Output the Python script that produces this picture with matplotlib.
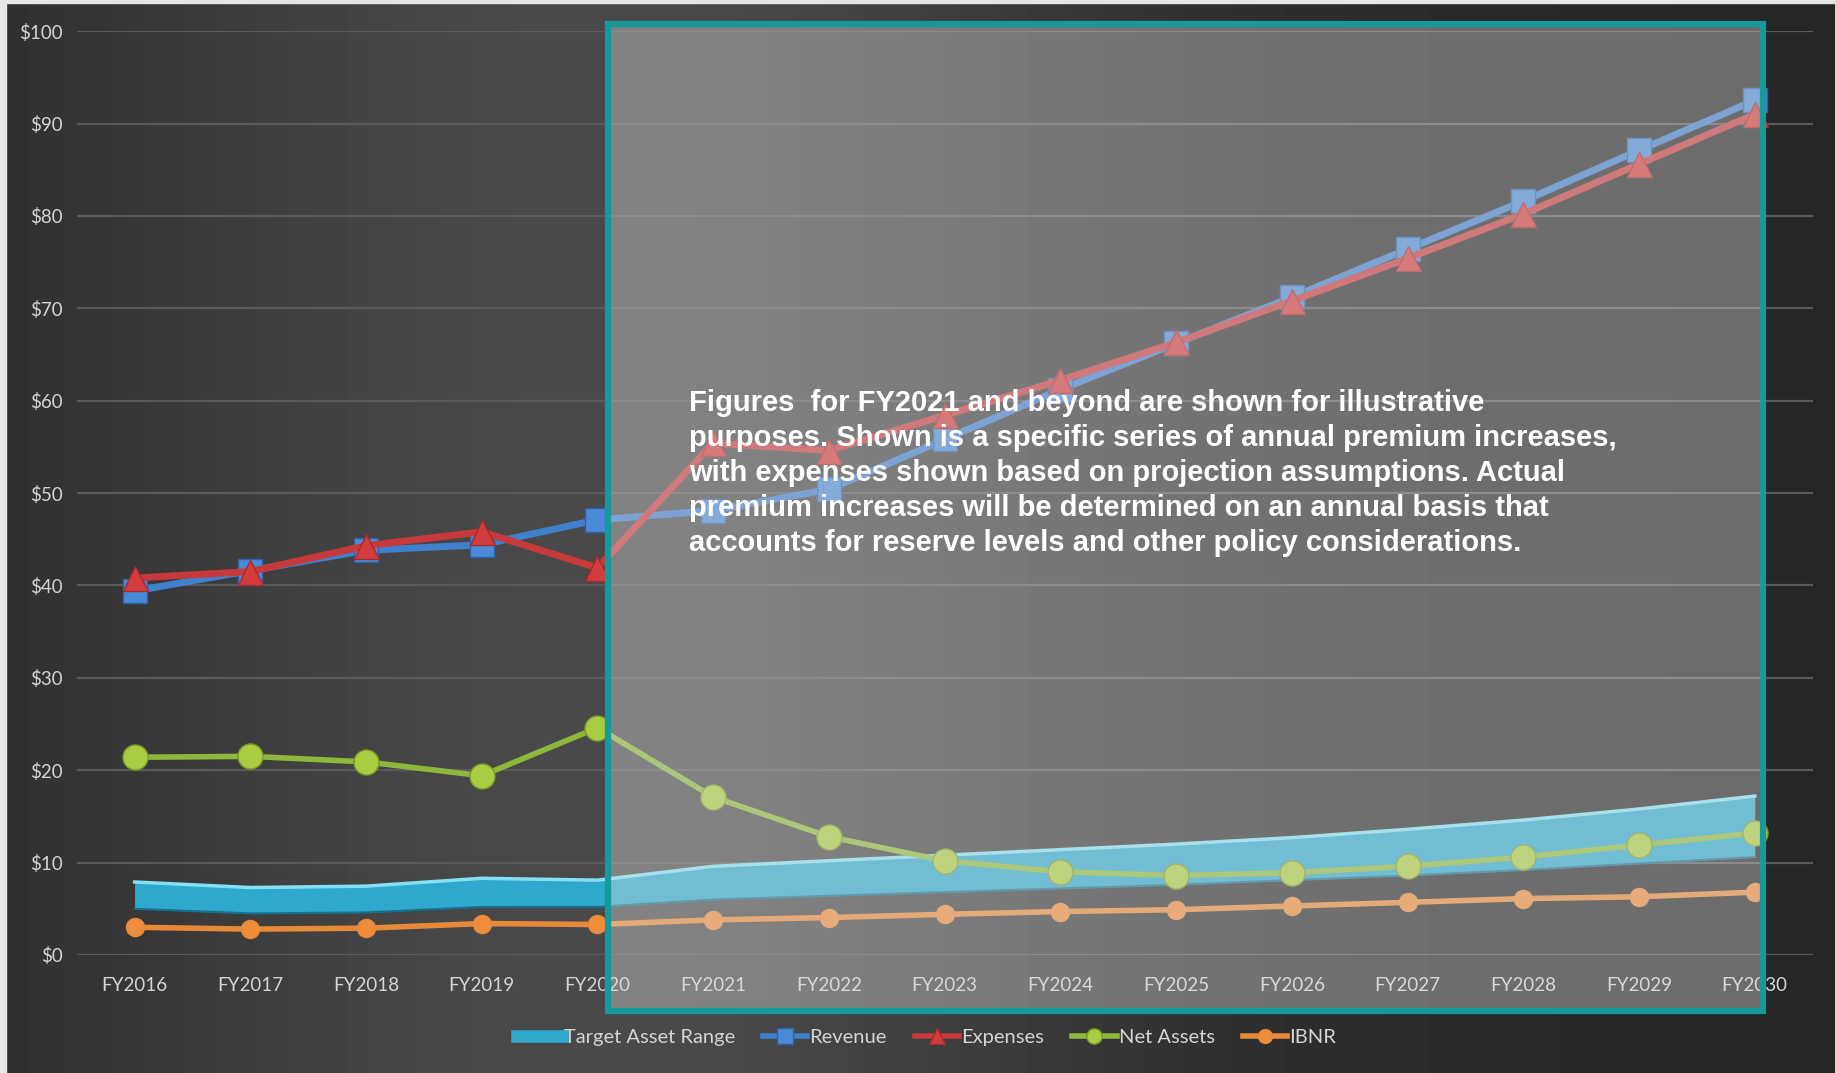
import numpy as np
import matplotlib
matplotlib.use("Agg")
import matplotlib.pyplot as plt
import matplotlib.patches as patches
from matplotlib.lines import Line2D

# ---- data (USD millions) ----
years = ["FY2016", "FY2017", "FY2018", "FY2019", "FY2020", "FY2021", "FY2022", "FY2023",
         "FY2024", "FY2025", "FY2026", "FY2027", "FY2028", "FY2029", "FY2030"]
target_low = [5.0, 4.5, 4.6, 5.2, 5.2, 6.0, 6.4, 6.8, 7.2, 7.6, 8.1, 8.6, 9.2, 9.9, 10.6]
target_high = [7.9, 7.3, 7.45, 8.3, 8.1, 9.6, 10.2, 10.8, 11.4, 12.0, 12.7, 13.6, 14.6, 15.8, 17.2]
revenue = [39.4, 41.6, 43.8, 44.4, 47.1, 48.1, 50.4, 55.8, 61.2, 66.2, 71.2, 76.4, 81.6, 87.1, 92.5]
expenses = [40.8, 41.5, 44.3, 45.8, 41.9, 55.4, 54.6, 58.4, 62.2, 66.3, 70.8, 75.4, 80.2, 85.6, 91.0]
net_assets = [21.4, 21.5, 20.9, 19.4, 24.6, 17.1, 12.8, 10.2, 9.0, 8.6, 8.9, 9.6, 10.6, 11.9, 13.2]
ibnr = [3.0, 2.8, 2.9, 3.4, 3.3, 3.8, 4.05, 4.4, 4.7, 4.9, 5.3, 5.7, 6.1, 6.3, 6.8]

note = ("Figures  for FY2021 and beyond are shown for illustrative\n"
        "purposes. Shown is a specific series of annual premium increases,\n"
        "with expenses shown based on projection assumptions. Actual\n"
        "premium increases will be determined on an annual basis that\n"
        "accounts for reserve levels and other policy considerations.")

x = np.arange(len(years))
txt_col = "#d4d4d4"

fig = plt.figure(figsize=(18.35, 10.73), dpi=100)

# dark background with a soft lighter band left of centre
bg = fig.add_axes([0, 0, 1, 1], zorder=-1)
gx = np.linspace(0, 1, 600)
grad = 38 / 255 + 0.14 * np.exp(-((gx - 0.33) / 0.3) ** 2)
bg.imshow(np.tile(grad, (10, 1)), cmap="gray", vmin=0, vmax=1, aspect="auto",
          extent=[0, 1, 0, 1])
bg.axis("off")
fig.patches.append(patches.Rectangle((0, 0), 6 / 1835, 1, transform=fig.transFigure,
                                     color="#e6e6e6", zorder=-0.5))
fig.patches.append(patches.Rectangle((0, 1 - 3 / 1073), 1, 3 / 1073, transform=fig.transFigure,
                                     color="#e6e6e6", zorder=-0.5))

ax = fig.add_axes([0.0418, 0.110, 0.946, 0.861])
ax.set_facecolor("none")
ax.set_xlim(-0.5, len(years) - 0.5)
ax.set_ylim(0, 100)

# target asset range band
ax.fill_between(x, target_low, target_high, color="#2ea8cc", zorder=2, lw=0)
ax.plot(x, target_high, color="#86e0f4", lw=2.5, zorder=2.1)
ax.plot(x, target_low, color="#17708c", lw=1.5, zorder=2.1)

ax.plot(x, revenue, color="#3f7fcc", lw=5, marker="s", ms=17,
        mfc="#4b8ad6", mec="#2e62a8", mew=1, zorder=3)
ax.plot(x, expenses, color="#c63a3c", lw=5, marker="^", ms=18,
        mfc="#d23c3e", mec="#a82a2c", mew=1, zorder=3.1)
ax.plot(x, net_assets, color="#8db83c", lw=4, marker="o", ms=18,
        mfc="#a9cc42", mec="#7a9a28", mew=1, zorder=3.2)
ax.plot(x, ibnr, color="#e8893a", lw=4, marker="o", ms=13,
        mfc="#ee8d3c", mec="#e8893a", zorder=3.3)

ax.set_yticks(np.arange(0, 101, 10))
ax.set_yticklabels(["$%d" % v for v in range(0, 101, 10)])
ax.set_xticks(x)
ax.set_xticklabels(years)
ax.grid(axis="y", color="#5a5a5a", lw=1.6)
ax.set_axisbelow(True)
ax.tick_params(length=0, colors=txt_col, labelsize=13.5)
ax.tick_params(axis="x", pad=16)
ax.tick_params(axis="y", pad=10)
for lab in ax.get_xticklabels() + ax.get_yticklabels():
    lab.set_family("Lato")
for s in ax.spines.values():
    s.set_visible(False)

# projection overlay box (covers FY2021 onwards)
box = patches.Rectangle((4.09, -6.1), 9.98, 106.9, facecolor=(0.88, 0.88, 0.88, 0.38),
                        edgecolor="#16999b", lw=4.5, clip_on=False, zorder=5)
ax.add_patch(box)

fig.text(0.3755, 0.6375, note, color="white", fontsize=21, fontweight="bold",
         family="Liberation Sans", va="top", ha="left", linespacing=1.32, zorder=10)

handles = [
    Line2D([], [], color="#2ea8cc", lw=9),
    Line2D([], [], color="#3f7fcc", lw=4, marker="s", ms=11, mfc="#4b8ad6", mec="#2e62a8"),
    Line2D([], [], color="#c63a3c", lw=4, marker="^", ms=12, mfc="#d23c3e", mec="#a82a2c"),
    Line2D([], [], color="#8db83c", lw=4, marker="o", ms=11, mfc="#a9cc42", mec="#7a9a28"),
    Line2D([], [], color="#e8893a", lw=4, marker="o", ms=10, mfc="#ee8d3c", mec="#e8893a"),
]
labels = ["Target Asset Range", "Revenue", "Expenses", "Net Assets", "IBNR"]
leg = fig.legend(handles, labels, loc="center", bbox_to_anchor=(0.505, 0.033), ncol=5,
                 frameon=False, handlelength=2.2, handletextpad=0.1, columnspacing=1.4,
                 prop={"family": "Lato", "size": 14.5})
for t in leg.get_texts():
    t.set_color(txt_col)

fig.savefig("out.png", dpi=100)
